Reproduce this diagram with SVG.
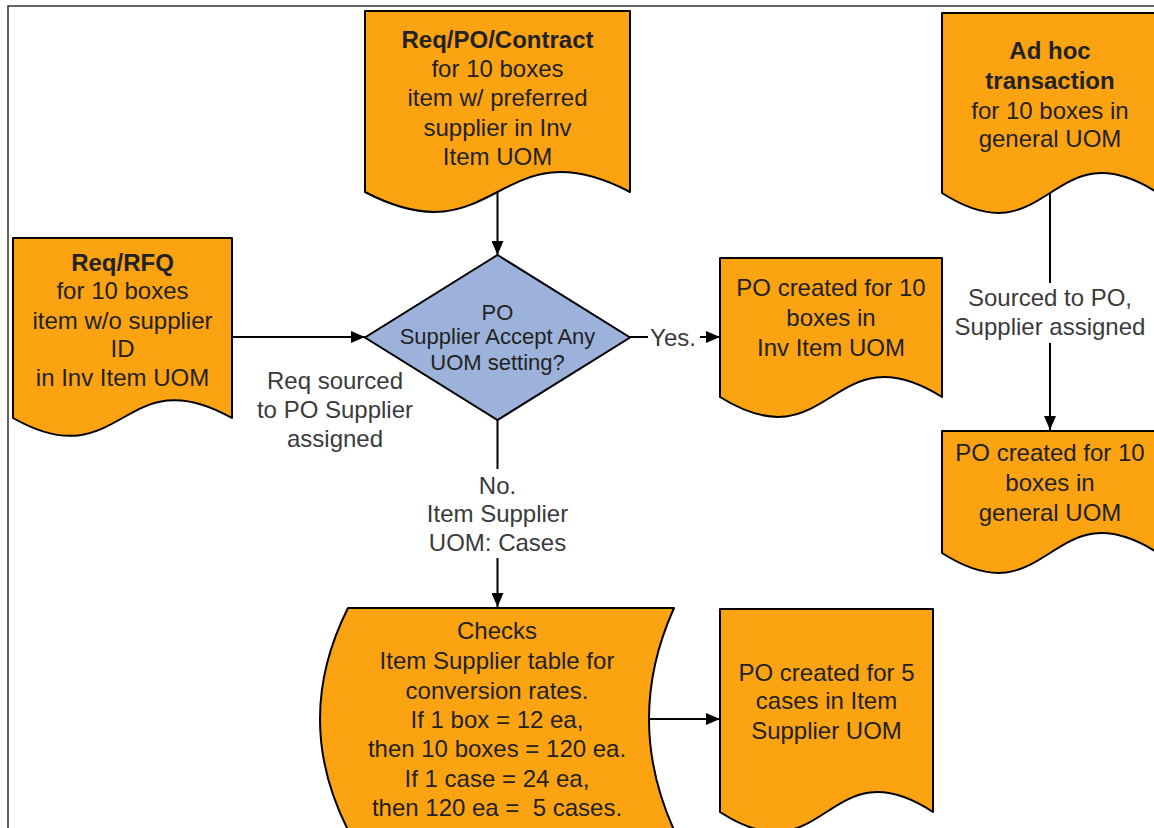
<svg xmlns="http://www.w3.org/2000/svg" width="1154" height="828" viewBox="0 0 1154 828">
<defs>
<style>
.node{fill:#FCA311;stroke:#000;stroke-width:2;stroke-linejoin:round}
.dec{fill:#9DB2DB;stroke:#000;stroke-width:2}
.t{font-family:"Liberation Sans",Arial,sans-serif;font-size:24px;fill:#222;text-anchor:middle}
.b{font-weight:bold}
.d{font-size:22px}
.lbl{font-family:"Liberation Sans",Arial,sans-serif;font-size:24px;fill:#3a3a3a;text-anchor:middle}
.edge{fill:none;stroke:#000;stroke-width:2;marker-end:url(#arr)}
.bg{fill:#fff}
</style>
<marker id="arr" markerUnits="userSpaceOnUse" markerWidth="14" markerHeight="12" refX="14" refY="6" orient="auto">
<path d="M0,0 L14,6 L0,12 Z" fill="#000"/>
</marker>
</defs>
<rect width="1154" height="828" fill="#fff"/>
<path d="M8,828 V6 H1154" fill="none" stroke="#333" stroke-width="1.5"/>

<g id="connectors">
<path class="edge" d="M497.5,192 V255"/>
<path class="edge" d="M232,337 H365"/>
<path class="edge" d="M630,337 H720"/>
<rect class="bg" x="648" y="324" width="52" height="26"/>
<text class="lbl" x="673" y="345.5">Yes.</text>
<path class="edge" d="M497.5,420 V607"/>
<rect class="bg" x="424" y="469" width="147" height="89"/>
<text class="lbl"><tspan x="497.5" y="493.5">No.</tspan><tspan x="497.5" y="522">Item Supplier</tspan><tspan x="497.5" y="551">UOM: Cases</tspan></text>
<path class="edge" d="M1050,193 V430"/>
<rect class="bg" x="953" y="283" width="195" height="60"/>
<text class="lbl"><tspan x="1050" y="305.5">Sourced to PO,</tspan><tspan x="1050" y="335">Supplier assigned</tspan></text>
<path class="edge" d="M649,719 H720"/>
<text class="lbl"><tspan x="335" y="388.5">Req sourced</tspan><tspan x="335" y="418">to PO Supplier</tspan><tspan x="335" y="446.5">assigned</tspan></text>
</g>

<g id="node-req-po-contract">
<path class="node" d="M365,11 H630 V192 C497.5,123 497.5,261 365,192 Z"/>
<text class="t"><tspan class="b" x="497.5" y="47.5">Req/PO/Contract</tspan><tspan x="497.5" y="76.5">for 10 boxes</tspan><tspan x="497.5" y="105.5">item w/ preferred</tspan><tspan x="497.5" y="136">supplier in Inv</tspan><tspan x="497.5" y="165">Item UOM</tspan></text>
</g>

<g id="node-req-rfq">
<path class="node" d="M13,238 H232 V418 C122.5,356 122.5,480 13,418 Z"/>
<text class="t"><tspan class="b" x="122.5" y="270.5">Req/RFQ</tspan><tspan x="122.5" y="298.5">for 10 boxes</tspan><tspan x="122.5" y="328.5">item w/o supplier</tspan><tspan x="122.5" y="356.5">ID</tspan><tspan x="122.5" y="385.5">in Inv Item UOM</tspan></text>
</g>

<g id="node-decision">
<path class="dec" d="M497.5,255 L630,337.5 L497.5,420 L365,337.5 Z"/>
<text class="t d"><tspan x="497.5" y="320">PO</tspan><tspan x="497.5" y="344">Supplier Accept Any</tspan><tspan x="497.5" y="370">UOM setting?</tspan></text>
</g>

<g id="node-adhoc">
<path class="node" d="M942,13 H1158 V193 C1050,124 1050,262 942,193 Z"/>
<text class="t"><tspan class="b" x="1050" y="58.5">Ad hoc</tspan><tspan class="b" x="1050" y="88.5">transaction</tspan><tspan x="1050" y="118.5">for 10 boxes in</tspan><tspan x="1050" y="147">general UOM</tspan></text>
</g>

<g id="node-po-inv">
<path class="node" d="M720,258 H942 V397 C831,328 831,466 720,397 Z"/>
<text class="t"><tspan x="831" y="295.5">PO created for 10</tspan><tspan x="831" y="325.5">boxes in</tspan><tspan x="831" y="355.5">Inv Item UOM</tspan></text>
</g>

<g id="node-po-general">
<path class="node" d="M942,431 H1158 V553 C1050,484 1050,622 942,553 Z"/>
<text class="t"><tspan x="1050" y="460.5">PO created for 10</tspan><tspan x="1050" y="490.5">boxes in</tspan><tspan x="1050" y="520.5">general UOM</tspan></text>
</g>

<g id="node-checks">
<path class="node" d="M348,608 H674 Q624,719 674,830 H348 Q292,719 348,608 Z"/>
<text class="t" xml:space="preserve"><tspan x="497" y="638.5">Checks</tspan><tspan x="497" y="668.5">Item Supplier table for</tspan><tspan x="497" y="698.5">conversion rates.</tspan><tspan x="497" y="727.5">If 1 box = 12 ea,</tspan><tspan x="497" y="756.5">then 10 boxes = 120 ea.</tspan><tspan x="497" y="786.5">If 1 case = 24 ea,</tspan><tspan x="497" y="815.5">then 120 ea =  5 cases.</tspan></text>
</g>

<g id="node-po-cases">
<path class="node" d="M720,609 H933 V812 C826.5,743 826.5,881 720,812 Z"/>
<text class="t"><tspan x="826.5" y="680.5">PO created for 5</tspan><tspan x="826.5" y="708.5">cases in Item</tspan><tspan x="826.5" y="738.5">Supplier UOM</tspan></text>
</g>
</svg>
